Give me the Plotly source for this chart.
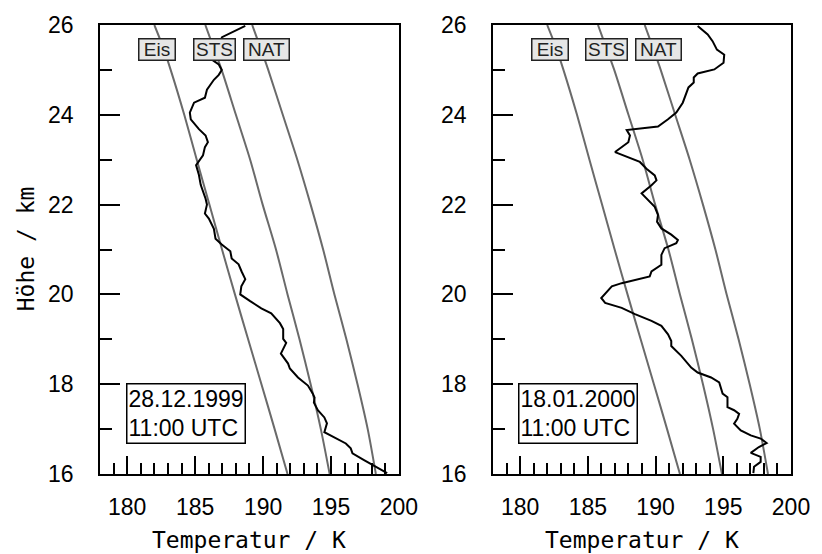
import plotly.graph_objects as go

# ---------------- data ----------------
# Reference (threshold) temperature curves, identical in both panels
ref_heights = [16, 17, 18, 19, 20, 21, 22, 23, 24, 25, 25.5, 26]
eis_T = [191.8, 190.85, 189.88, 188.9, 187.93, 186.98, 186.05, 185.12, 184.2, 183.2, 182.65, 182.0]
sts_T = [194.9, 194.25, 193.5, 192.68, 191.8, 190.95, 189.97, 189.05, 188.0, 186.95, 186.35, 185.75]
nat_T = [198.3, 197.7, 196.95, 196.13, 195.25, 194.42, 193.5, 192.52, 191.45, 190.38, 189.8, 189.2]
ref_names = ["Eis", "STS", "NAT"]
label_T = [182.2, 186.4, 190.25]
label_h = 25.45

# Left profile, 28.12.1999 11:00 UTC
left_h = [25.98, 25.73, 25.23, 25.12, 25.00, 24.89, 24.78, 24.56, 24.38, 24.27, 24.05, 23.90,
          23.68, 23.54, 23.39, 23.28, 23.10, 22.88, 22.66, 22.44, 22.13, 22.00, 21.80, 21.69,
          21.46, 21.24, 21.11, 20.96, 20.80, 20.67, 20.51, 20.34, 20.18, 20.00, 19.85, 19.69,
          19.58, 19.36, 19.23, 19.01, 18.92, 18.68, 18.46, 18.35, 18.15, 17.97, 17.79, 17.70,
          17.59, 17.42, 17.26, 17.13, 16.93, 16.82, 16.68, 16.57, 16.46, 16.31, 16.15, 16.02]
left_T = [188.69, 186.98, 186.23, 186.74, 186.96, 186.74, 186.38, 185.87, 185.72, 184.92, 184.61, 184.68,
          185.28, 185.77, 185.94, 185.72, 185.58, 185.07, 185.28, 185.41, 185.77, 185.87, 185.72, 186.01,
          186.38, 186.50, 186.96, 187.59, 187.69, 188.20, 188.42, 188.69, 188.40, 188.32, 189.05, 189.87,
          190.60, 191.24, 191.48, 191.48, 191.70, 191.31, 191.84, 191.97, 192.57, 193.30, 193.66, 193.79,
          193.74, 194.03, 194.51, 194.70, 194.51, 195.24, 196.09, 196.45, 196.58, 197.43, 198.40, 199.13]

# Right profile, 18.01.2000 11:00 UTC
right_h = [25.98, 25.79, 25.64, 25.45, 25.34, 25.16, 25.01, 24.92, 24.83, 24.72, 24.61, 24.46,
           24.27, 24.05, 23.90, 23.74, 23.70, 23.66, 23.54, 23.39, 23.17, 23.06, 22.95, 22.80,
           22.65, 22.54, 22.43, 22.25, 22.10, 21.95, 21.77, 21.62, 21.47, 21.33, 21.21, 21.14,
           21.03, 20.88, 20.66, 20.51, 20.40, 20.33, 20.25, 20.18, 20.03, 19.92, 19.81, 19.70,
           19.56, 19.41, 19.30, 19.11, 18.96, 18.85, 18.63, 18.37, 18.26, 18.15, 18.04, 17.79,
           17.71, 17.49, 17.42, 17.34, 17.23, 17.12, 16.97, 16.86, 16.79, 16.69, 16.60, 16.47,
           16.38, 16.27, 16.16, 16.02]
right_T = [193.11, 193.85, 194.21, 194.53, 195.07, 195.02, 194.34, 193.11, 192.82, 192.82, 192.43, 192.26,
           192.01, 191.53, 190.92, 190.18, 188.97, 187.87, 188.11, 187.99, 187.01, 187.99, 188.84, 189.33,
           189.94, 190.07, 189.70, 188.97, 189.45, 189.94, 190.18, 190.11, 190.43, 191.16, 191.65, 191.53,
           190.67, 190.43, 190.43, 189.70, 189.57, 188.48, 187.50, 186.77, 186.28, 185.99, 186.28, 187.50,
           188.48, 189.70, 190.43, 190.92, 191.16, 191.16, 191.90, 192.63, 193.11, 194.10, 194.70, 194.95,
           195.31, 195.31, 195.80, 196.17, 196.04, 195.80, 196.29, 197.03, 197.76, 198.20, 197.63, 197.03,
           197.76, 197.76, 197.27, 197.22]

dates = ["28.12.1999<br>11:00 UTC", "18.01.2000<br>11:00 UTC"]
date_pos_T = 184.3
date_pos_h = 17.35

x_tickvals = [180, 185, 190, 195, 200]
y_tickvals = [16, 18, 20, 22, 24, 26]

x_title = "Temperatur / K"
y_title = "Höhe / km"

# ---------------- figure ----------------
fig = go.Figure()
GRAY = "#6a6a6a"
panels = [("x", "y", left_T, left_h), ("x2", "y2", right_T, right_h)]
for xa, ya, pT, ph in panels:
    for T in (eis_T, sts_T, nat_T):
        fig.add_trace(go.Scatter(x=T, y=ref_heights, mode="lines", xaxis=xa, yaxis=ya,
                                 line=dict(color=GRAY, width=2, shape="spline", smoothing=0.8),
                                 showlegend=False, hoverinfo="skip"))
    fig.add_trace(go.Scatter(x=pT, y=ph, mode="lines", xaxis=xa, yaxis=ya,
                             line=dict(color="black", width=2), showlegend=False))

TICKFONT = dict(family="Liberation Sans", size=23, color="black")
TITLEFONT = dict(family="DejaVu Sans Mono", size=23, color="black")

xcommon = dict(range=[178, 200], tickvals=x_tickvals, ticks="inside", ticklen=18,
               tickwidth=1.5, tickcolor="black", showline=True, linecolor="black",
               linewidth=1.5, mirror=True, showgrid=False, zeroline=False,
               tickfont=TICKFONT, ticklabelstandoff=12,
               minor=dict(dtick=1, ticks="inside", ticklen=11, tickwidth=1.5,
                          tickcolor="black", showgrid=False))
ycommon = dict(range=[16, 26], tickvals=y_tickvals, ticks="inside", ticklen=20,
               tickwidth=1.5, tickcolor="black", showline=True, linecolor="black",
               linewidth=1.5, mirror=True, showgrid=False, zeroline=False,
               tickfont=TICKFONT, ticklabelstandoff=20,
               minor=dict(dtick=1, ticks="inside", ticklen=12, tickwidth=1.5,
                          tickcolor="black", showgrid=False))

dom_left = [0, 302 / 698]
dom_right = [397 / 698, 1]

fig.update_layout(
    width=822, height=554,
    margin=dict(l=100, r=24, t=22, b=80),
    paper_bgcolor="white", plot_bgcolor="white",
    xaxis=dict(domain=dom_left, anchor="y", **xcommon),
    yaxis=dict(domain=[0, 1], anchor="x", **ycommon),
    xaxis2=dict(domain=dom_right, anchor="y2", **xcommon),
    yaxis2=dict(domain=[0, 1], anchor="x2", **ycommon),
)

label_widths = {"Eis": 35, "STS": 40, "NAT": 44}
annotations = []
for xa, ya in (("x", "y"), ("x2", "y2")):
    for name, t in zip(ref_names, label_T):
        annotations.append(dict(x=t, y=label_h, xref=xa, yref=ya, text=name, showarrow=False,
                                font=dict(family="Liberation Sans", size=19, color="#222"),
                                bgcolor="#e6e6e6", bordercolor="#222", borderwidth=1.5,
                                borderpad=0, width=label_widths[name], height=20,
                                xanchor="center", yanchor="middle"))
for (xa, ya), d in zip((("x", "y"), ("x2", "y2")), dates):
    annotations.append(dict(x=date_pos_T, y=date_pos_h, xref=xa, yref=ya, text=d, showarrow=False,
                            align="left", font=dict(family="Liberation Sans", size=23, color="black"),
                            bgcolor="white", bordercolor="black", borderwidth=1.5, borderpad=1,
                            xanchor="center", yanchor="middle"))
# axis titles
for dom in (dom_left, dom_right):
    annotations.append(dict(x=(dom[0] + dom[1]) / 2, y=-66 / 452, xref="paper", yref="paper",
                            text=x_title, showarrow=False, font=TITLEFONT,
                            xanchor="center", yanchor="middle"))
annotations.append(dict(x=-75 / 698, y=(474 - 247) / 452, xref="paper", yref="paper",
                        text=y_title, showarrow=False, font=TITLEFONT, textangle=-90,
                        xanchor="center", yanchor="middle"))
fig.update_layout(annotations=annotations)

fig.write_html("out.html")
